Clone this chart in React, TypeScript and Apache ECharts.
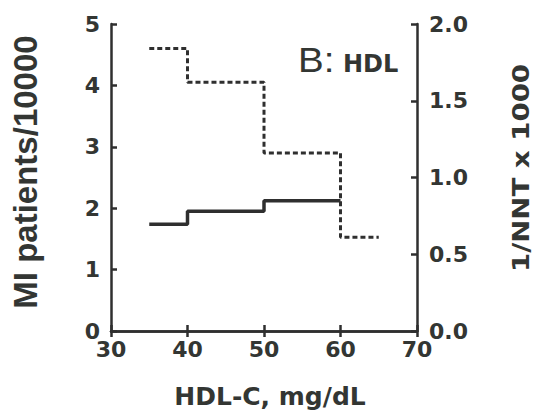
import React, { useEffect, useRef } from "react";
import * as echarts from "echarts";

// HDL-C bin edges (mg/dL)
const dottedEdges = [35, 40, 50, 60, 65];
const dottedValues = [1.84, 1.62, 1.16, 0.61]; // 1/NNT x 1000 (right axis)
const solidEdges = [35, 40, 50, 60];
const solidValues = [1.74, 1.95, 2.12]; // MI patients/10000 (left axis)

const xTicks = [30, 40, 50, 60, 70];
const leftTicks = [0, 1, 2, 3, 4, 5];
const rightTicks = [0, 0.5, 1, 1.5, 2];

const stepPoints = (edges: number[], vals: number[]) =>
  edges.map((x, i) => [x, vals[Math.min(i, vals.length - 1)]]);

const INK = "#2f2f2f";
const TXT = "#333633";

export default function App() {
  const ref = useRef<HTMLDivElement>(null);
  useEffect(() => {
    document.body.style.margin = "0";
    if (!ref.current) return;
    const chart = echarts.init(ref.current, null, { renderer: "svg" });
    const tickFont = {
      fontFamily: "DejaVu Sans",
      fontWeight: "bold" as const,
      fontSize: 22,
      color: TXT,
    };
    const axisLine = { show: true, lineStyle: { color: INK, width: 2.5 } };
    const axisTick = { show: true, inside: true, length: 6, lineStyle: { color: INK, width: 2.5 } };
    chart.setOption({
      animation: false,
      backgroundColor: "#ffffff",
      grid: { left: 111, right: 120, top: 24, bottom: 80, containLabel: false },
      xAxis: [
        {
          type: "value",
          min: xTicks[0],
          max: xTicks[xTicks.length - 1],
          interval: 10,
          position: "bottom",
          axisLine,
          axisTick,
          axisLabel: { ...tickFont, margin: 7 },
          splitLine: { show: false },
        },
        {
          type: "value",
          min: xTicks[0],
          max: xTicks[xTicks.length - 1],
          interval: 10,
          position: "top",
          axisLine,
          axisTick,
          axisLabel: { show: false },
          splitLine: { show: false },
        },
      ],
      yAxis: [
        {
          type: "value",
          min: leftTicks[0],
          max: leftTicks[leftTicks.length - 1],
          interval: 1,
          position: "left",
          axisLine,
          axisTick,
          axisLabel: { ...tickFont, margin: 11 },
          splitLine: { show: false },
        },
        {
          type: "value",
          min: rightTicks[0],
          max: rightTicks[rightTicks.length - 1],
          interval: 0.5,
          position: "right",
          axisLine,
          axisTick,
          axisLabel: { ...tickFont, margin: 12, formatter: (v: number) => v.toFixed(1) },
          splitLine: { show: false },
        },
      ],
      series: [
        {
          type: "line",
          yAxisIndex: 1,
          step: "end",
          data: stepPoints(dottedEdges, dottedValues),
          symbol: "none",
          lineStyle: { color: INK, width: 3, type: [5, 3] },
        },
        {
          type: "line",
          yAxisIndex: 0,
          step: "end",
          data: stepPoints(solidEdges, solidValues),
          symbol: "none",
          lineStyle: { color: INK, width: 3.5 },
        },
      ],
      graphic: [
        {
          type: "text",
          x: 25,
          y: 172,
          rotation: Math.PI / 2,
          style: {
            text: "MI patients/10000",
            font: "bold 33px 'Liberation Sans'",
            fill: TXT,
            align: "center",
            verticalAlign: "middle",
          },
        },
        {
          type: "text",
          x: 521,
          y: 168,
          rotation: Math.PI / 2,
          scaleX: 1.2,
          style: {
            text: "1/NNT x 1000",
            font: "bold 23px 'DejaVu Sans'",
            fill: TXT,
            align: "center",
            verticalAlign: "middle",
          },
        },
        {
          type: "text",
          x: 270,
          y: 396,
          style: {
            text: "HDL-C, mg/dL",
            font: "bold 25px 'DejaVu Sans'",
            fill: TXT,
            align: "center",
            verticalAlign: "middle",
          },
        },
        {
          type: "text",
          x: 298,
          y: 60,
          scaleX: 1.1,
          style: {
            text: "B:",
            font: "35px 'Liberation Sans'",
            fill: TXT,
            align: "left",
            verticalAlign: "middle",
          },
        },
        {
          type: "text",
          x: 343,
          y: 64,
          style: {
            text: "HDL",
            font: "bold 24px 'DejaVu Sans'",
            fill: TXT,
            align: "left",
            verticalAlign: "middle",
          },
        },
      ],
    });
    return () => chart.dispose();
  }, []);
  return <div ref={ref} style={{ width: 537, height: 411 }} />;
}
